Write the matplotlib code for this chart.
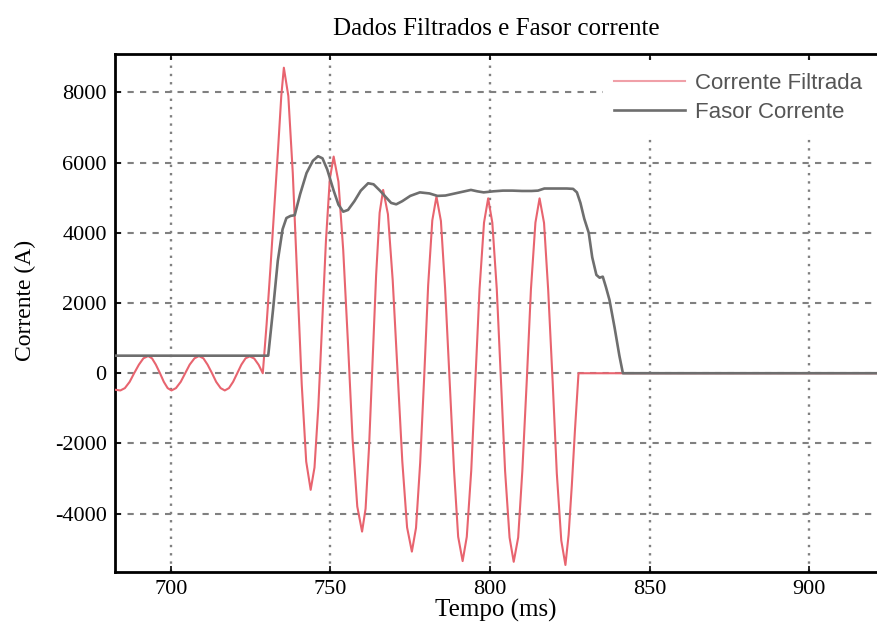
import matplotlib
matplotlib.use("Agg")
import matplotlib.pyplot as plt

plt.rcParams["axes.unicode_minus"] = False

# ---- data ----
t_filtrada = [682.5, 684.2, 685.6, 687.1, 688.5, 690.0, 691.4, 692.9,
              694.1, 695.3, 696.6, 697.8, 699.0, 700.2,
              701.6, 703.1, 704.5, 705.9, 707.4, 708.8,
              710.2, 711.5, 712.9, 714.2, 715.6, 716.9,
              718.2, 719.5, 720.8, 722.1, 723.4, 724.7,
              726.1, 727.5, 728.8,
              730.0, 731.2, 732.4, 733.6, 734.6, 735.4,
              736.8, 738.2, 739.6, 741.0, 742.4, 743.8,
              745.0, 746.2, 747.4, 748.6, 749.8, 751.0,
              752.5, 754.0, 755.5, 756.9, 758.4, 759.9,
              761.0, 762.1, 763.2, 764.3, 765.4, 766.5,
              768.0, 769.5, 771.0, 772.5, 774.0, 775.5,
              776.8, 778.1, 779.4, 780.6, 781.9, 783.2,
              784.6, 785.9, 787.3, 788.7, 790.0, 791.4,
              792.7, 794.1, 795.4, 796.7, 798.1, 799.4,
              800.7, 802.1, 803.4, 804.7, 806.1, 807.4,
              808.8, 810.1, 811.5, 812.8, 814.2, 815.5,
              816.9, 818.2, 819.6, 820.9, 822.3, 823.6,
              824.6, 825.6, 826.6, 827.7, 922.0]
i_filtrada = [-470, -490, -424, -245, 0, 245, 424, 490,
              424, 245, 0, -245, -424, -490,
              -424, -245, 0, 245, 424, 490,
              424, 245, 0, -245, -424, -490,
              -424, -245, 0, 245, 424, 480,
              420, 240, 0,
              1400, 3000, 4700, 6400, 7900, 8700,
              7895, 5695, 2690, -315, -2515, -3320,
              -2684, -947, 1425, 3797, 5534, 6170,
              5455, 3500, 830, -1840, -3795, -4510,
              -3858, -2077, 355, 2787, 4568, 5220,
              4530, 2645, 70, -2505, -4390, -5080,
              -4403, -2552, -25, 2502, 4353, 5030,
              4335, 2435, -160, -2755, -4655, -5350,
              -4658, -2768, -185, 2398, 4288, 4980,
              4287, 2393, -195, -2783, -4677, -5370,
              -4677, -2783, -195, 2393, 4287, 4980,
              4281, 2370, -240, -2850, -4761, -5460,
              -4600, -3200, -1600, 0, 0]

t_fasor = [682.5, 730.5, 732.0, 733.5, 735.0, 736.2, 737.5, 738.8, 740.5,
           742.5, 744.5, 746.1, 747.5, 749.0, 751.0, 752.5, 754.0, 755.5,
           757.5, 759.5, 761.8, 763.5, 765.5, 767.5, 769.0, 770.6, 772.5,
           775.0, 778.0, 781.0, 783.5, 786.0, 789.0, 792.0, 794.0, 796.0,
           798.0, 801.0, 804.0, 807.0, 810.0, 813.0, 815.0, 817.0, 820.0,
           824.0, 826.0, 827.2, 828.3, 829.5, 830.9, 832.0, 833.3, 834.3,
           835.3, 836.3, 837.4, 839.0, 840.5, 841.6, 922.0]
i_fasor = [500, 500, 1800, 3200, 4100, 4420, 4480, 4500, 5100,
           5700, 6050, 6180, 6120, 5800, 5200, 4800, 4600, 4650,
           4900, 5200, 5410, 5380, 5200, 5000, 4850, 4810, 4900,
           5050, 5150, 5120, 5050, 5060, 5120, 5180, 5220, 5180,
           5150, 5180, 5200, 5200, 5190, 5190, 5200, 5260, 5260,
           5260, 5250, 5150, 4850, 4400, 4000, 3300, 2800, 2720,
           2750, 2450, 2087, 1300, 500, 0, 0]

x_ticks = [700, 750, 800, 850, 900]
y_ticks = [-4000, -2000, 0, 2000, 4000, 6000, 8000]

# ---- figure ----
fig = plt.figure(figsize=(8.77, 6.31), dpi=100)
ax = fig.add_axes([0.1311, 0.0935, 0.8689, 0.8209])

serif = ["Liberation Serif", "DejaVu Serif"]
sans = ["Liberation Sans", "DejaVu Sans"]

ax.plot(t_filtrada, i_filtrada, color="#e8646f", lw=1.5, label="Corrente Filtrada", zorder=3)
ax.plot(t_fasor, i_fasor, color="#6e6e6e", lw=1.9, label="Fasor Corrente", zorder=4)

ax.set_xlim(682.5, 921.2)
ax.set_ylim(-5660, 9090)
ax.set_xticks(x_ticks)
ax.set_yticks(y_ticks)

for y in y_ticks:
    ax.axhline(y, color="#808080", lw=1.5, ls=(0, (3, 3)), zorder=0.5)
for x in x_ticks:
    ax.axvline(x, color="#808080", lw=1.7, ls=(0, (1, 2.5)), zorder=0.5)

ax.tick_params(direction="in", length=4, width=1.2, top=True, right=False,
               labelsize=16, pad=6)
for lab in ax.get_xticklabels() + ax.get_yticklabels():
    lab.set_family(serif)

for s in ["left", "bottom", "top"]:
    ax.spines[s].set_linewidth(2.0)
ax.spines["right"].set_visible(False)

ax.set_title("Dados Filtrados e Fasor corrente", family=serif, fontsize=18, pad=14)
ax.set_xlabel("Tempo (ms)", family=serif, fontsize=18, labelpad=0)
ax.set_ylabel("Corrente (A)", family=serif, fontsize=17)
ax.yaxis.set_label_coords(-0.104, 0.525)

leg = ax.legend(loc="upper right", frameon=True, prop={"family": sans, "size": 16},
                handlelength=3.2, handletextpad=0.45, labelspacing=0.35,
                borderpad=0.5, borderaxespad=0.0, fancybox=False,
                bbox_to_anchor=(0.995, 0.985))
leg.get_frame().set_facecolor("white")
leg.get_frame().set_edgecolor("none")
leg.get_frame().set_alpha(1.0)
leg.set_zorder(1.2)
for txt in leg.get_texts():
    txt.set_color("#555555")
leg.get_lines()[0].set_color("#f0a0a8")

fig.savefig("out.png", dpi=100)
